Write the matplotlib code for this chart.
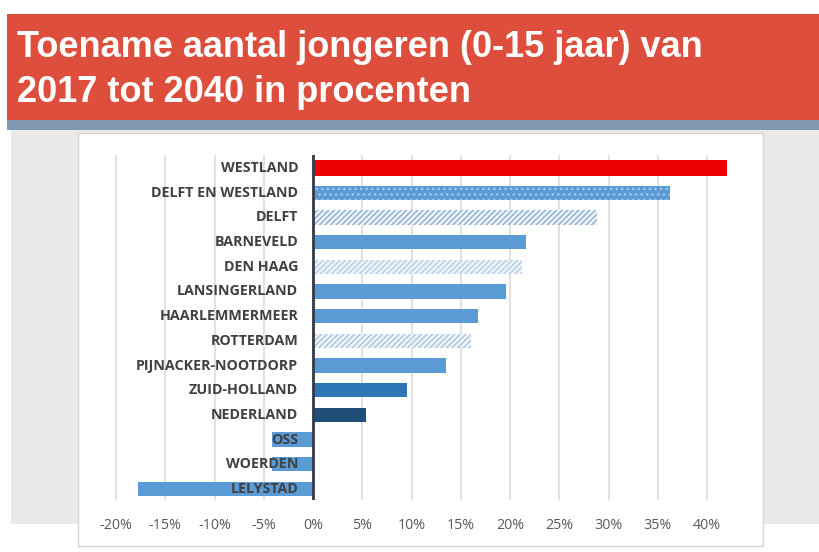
import matplotlib
matplotlib.use("Agg")
import matplotlib.pyplot as plt
from matplotlib.patches import Rectangle
from matplotlib import font_manager as fm
import numpy as np

# ---------------- data ----------------
categories = ['WESTLAND', 'DELFT EN WESTLAND', 'DELFT', 'BARNEVELD', 'DEN HAAG',
              'LANSINGERLAND', 'HAARLEMMERMEER', 'ROTTERDAM', 'PIJNACKER-NOOTDORP',
              'ZUID-HOLLAND', 'NEDERLAND', 'OSS', 'WOERDEN', 'LELYSTAD']
values = [42.0, 36.2, 28.8, 21.6, 21.2, 19.6, 16.8, 16.0, 13.5, 9.5, 5.4, -4.2, -4.2, -17.8]
tick_values = [-20, -15, -10, -5, 0, 5, 10, 15, 20, 25, 30, 35, 40]
tick_labels = ['-20%', '-15%', '-10%', '-5%', '0%', '5%', '10%', '15%', '20%',
               '25%', '30%', '35%', '40%']
title_lines = ['Toename aantal jongeren (0-15 jaar) van', '2017 tot 2040 in procenten']

# ---------------- styles ----------------
SOLID = '#5b9bd5'
styles = {
    'WESTLAND': dict(color='#ee0000'),
    'DELFT EN WESTLAND': dict(color=SOLID, hatch='...', edgecolor='#a8c8ea'),
    'DELFT': dict(color='#edf3fa', hatch='//////', edgecolor='#8eaccb'),
    'DEN HAAG': dict(color='#eef4fa', hatch='//////', edgecolor='#b3cde6'),
    'ROTTERDAM': dict(color='#eef4fa', hatch='//////', edgecolor='#a9c4de'),
    'ZUID-HOLLAND': dict(color='#2e75b6'),
    'NEDERLAND': dict(color='#1f4e79'),
}

W, H = 819, 552
fig = plt.figure(figsize=(W / 100, H / 100), dpi=100)
fig.patch.set_facecolor('white')

names = {f.name for f in fm.fontManager.ttflist}
label_font = 'Open Sans' if 'Open Sans' in names else 'DejaVu Sans'
title_font, title_size = 'Liberation Sans', 26


def rect_px(x0, y0, x1, y1, **kw):
    r = Rectangle((x0 / W, 1 - y1 / H), (x1 - x0) / W, (y1 - y0) / H,
                  transform=fig.transFigure, **kw)
    fig.add_artist(r)
    return r


# background pieces
rect_px(11, 128, 819, 524, facecolor='#ece9e9', edgecolor='none', zorder=-10)
rect_px(7, 14, 819, 121, facecolor='#de4e3c', edgecolor='none', zorder=-9)
rect_px(7, 120, 819, 130, facecolor='#8099b0', edgecolor='none', zorder=-9)
rect_px(78, 133, 763, 546, facecolor='white', edgecolor='#d4d4d4', linewidth=1, zorder=-8)

# title
fig.text(17 / W, 1 - 57 / H, title_lines[0], color='white', fontsize=title_size,
         fontweight='bold', family=title_font, va='baseline', ha='left')
fig.text(17 / W, 1 - 102 / H, title_lines[1], color='white', fontsize=title_size,
         fontweight='bold', family=title_font, va='baseline', ha='left')

# axes
px_per = 9.85
x_min, x_max = -20.3, 43.0
left_px = 313 - (-x_min) * px_per
right_px = 313 + x_max * px_per
top_px, bot_px = 155, 500
ax = fig.add_axes([left_px / W, 1 - bot_px / H, (right_px - left_px) / W, (bot_px - top_px) / H])
ax.set_facecolor('none')

plt.rcParams['hatch.linewidth'] = 1.0

y = np.arange(len(categories))
for yi, cat, v in zip(y, categories, values):
    st = styles.get(cat, dict(color=SOLID))
    kw = dict(height=0.58 if cat != 'WESTLAND' else 0.64, zorder=3)
    if 'hatch' in st:
        ax.barh(yi, v, color=st['color'], hatch=st['hatch'], edgecolor=st['edgecolor'],
                linewidth=0, **kw)
    else:
        ax.barh(yi, v, color=st['color'], linewidth=0, **kw)

ax.set_xlim(x_min, x_max)
ax.set_ylim(len(categories) - 0.55, -0.53)
ax.set_xticks(tick_values)
ax.set_xticklabels(tick_labels)
ax.set_yticks([])
ax.grid(axis='x', color='#d9d9d9', linewidth=1.1, zorder=0)
ax.set_axisbelow(True)
for s in ax.spines.values():
    s.set_visible(False)
ax.tick_params(axis='x', length=0, pad=13, labelsize=10.3, labelcolor='#595959')
for t in ax.get_xticklabels():
    t.set_family(label_font)
ax.axvline(0, color='#353a48', linewidth=2, zorder=4)

for yi, cat in zip(y, categories):
    ax.text(-1.5, yi, cat, ha='right', va='center', fontsize=10.3, fontweight='bold',
            family=label_font, color='#404040', zorder=5)

fig.savefig('out.png', dpi=100, facecolor='white')
